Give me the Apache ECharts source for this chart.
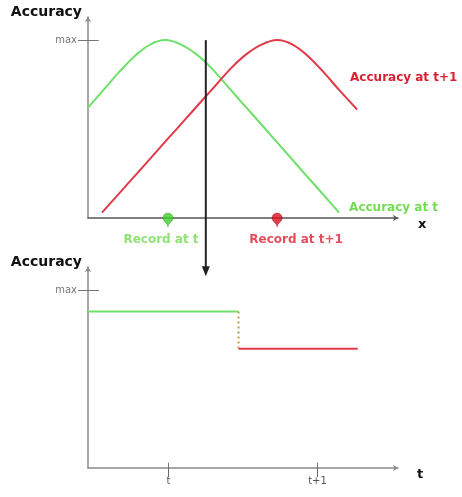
<!DOCTYPE html>
<html><head><meta charset="utf-8">
<script src="https://cdn.jsdelivr.net/npm/echarts@6/dist/echarts.min.js"></script>
<style>html,body{margin:0;padding:0;background:#fff}#c{width:462px;height:497px}</style>
</head><body><div id="c"></div>
<script>
// ---- data ----
const greenX = [0, 0.5, 1.0, 1.5, 2.0, 2.5, 3.0, 3.5, 4.0, 4.5, 5.0, 5.5, 6.0, 6.5, 7.0, 7.5, 8.1];
const greenY = [0.62, 0.72, 0.82, 0.91, 0.975, 1.0, 0.975, 0.92, 0.84, 0.741, 0.642, 0.544, 0.445, 0.346, 0.247, 0.149, 0.03];
const redX = [0.45, 1.1, 1.6, 2.1, 2.6, 3.1, 3.6, 4.1, 4.6, 5.1, 5.6, 6.1, 6.6, 7.1, 7.6, 8.1, 8.68];
const redY = [0.03, 0.157, 0.254, 0.352, 0.45, 0.547, 0.645, 0.742, 0.84, 0.92, 0.975, 1.0, 0.975, 0.91, 0.82, 0.72, 0.61];
const recordX = [2.58, 6.1];
const recordLabels = ['Record at t', 'Record at t+1'];
const arrowX = 3.8, arrowFrom = 1.0, arrowTo = -0.30;
const maxValue = 1;
const stepX = [0.46, 1.47, 2.27];
const greenLevel = 0.88, redLevel = 0.67;
const bottomTickValues = [1, 2];
const bottomTickLabels = ['t', 't+1'];

const GREEN = '#6fe06a', RED = '#e03a48', GREEN_TXT = '#72dc52', RED_TXT = '#dc2032';
const FONT = 'DejaVu Sans';
const zip = (xs, ys) => xs.map((x, i) => [x, ys[i]]);

const chart = echarts.init(document.getElementById('c'));
const yCommon = (gi) => ({
  type: 'value', gridIndex: gi, min: 0, max: 1.13,
  name: 'Accuracy', nameLocation: 'end', nameGap: 5,
  nameTextStyle: {align: 'right', verticalAlign: 'middle', padding: [0, 6, 0, 0], fontFamily: FONT, fontWeight: 'bold', fontSize: 14, color: '#111'},
  axisLine: {show: true, lineStyle: {color: '#8a8a8a', width: 1.5}, symbol: ['none', 'arrow'], symbolSize: [5, 5]},
  axisTick: {show: true, customValues: [maxValue], length: 10, lineStyle: {color: '#777'}},
  axisLabel: {show: true, customValues: [maxValue], formatter: () => 'max', margin: 11, fontFamily: FONT, fontSize: 10, color: '#777'},
  splitLine: {show: false}
});
const tickMark = (pts) => ({silent: true, symbol: 'none', label: {show: false}, lineStyle: {color: '#777', width: 1, type: 'solid'},
  emphasis: {disabled: true}, data: pts.map(p => [{coord: p[0]}, {coord: p[1]}])});

chart.setOption({
  animation: false,
  grid: [
    {left: 88, right: 64, top: 17, height: 201},
    {left: 88, right: 64, top: 267, height: 201}
  ],
  xAxis: [
    {type: 'value', gridIndex: 0, min: 0, max: 10, name: 'x', nameLocation: 'end', nameGap: 20,
     nameTextStyle: {fontFamily: FONT, fontWeight: 'bold', fontSize: 13, color: '#111', verticalAlign: 'top'},
     axisLine: {show: true, onZero: false, lineStyle: {color: '#555', width: 1.5}, symbol: ['none', 'arrow'], symbolSize: [5, 5]},
     axisTick: {show: false}, axisLabel: {show: false}, splitLine: {show: false}},
    {type: 'value', gridIndex: 1, min: 0.46, max: 2.54, name: 't', nameLocation: 'end', nameGap: 19,
     nameTextStyle: {fontFamily: FONT, fontWeight: 'bold', fontSize: 13, color: '#111', verticalAlign: 'top'},
     axisLine: {show: true, onZero: false, lineStyle: {color: '#8a8a8a', width: 1.5}, symbol: ['none', 'arrow'], symbolSize: [5, 5]},
     axisTick: {show: true, customValues: bottomTickValues, length: 9, lineStyle: {color: '#666'}},
     axisLabel: {show: true, customValues: bottomTickValues, formatter: v => bottomTickLabels[bottomTickValues.indexOf(v)],
       margin: 8, fontFamily: FONT, fontSize: 10, color: '#555'},
     splitLine: {show: false}}
  ],
  yAxis: [yCommon(0), yCommon(1)],
  series: [
    {type: 'line', xAxisIndex: 0, yAxisIndex: 0, data: zip(greenX, greenY), smooth: 0.3, showSymbol: false,
     lineStyle: {color: GREEN, width: 2}, itemStyle: {color: GREEN},
     endLabel: {show: true, formatter: 'Accuracy at t', color: GREEN_TXT, fontFamily: FONT, fontWeight: 'bold', fontSize: 12, distance: 10, offset: [0, -5]},
     markLine: tickMark([[[0, maxValue], [0.35, maxValue]]])},
    {type: 'line', xAxisIndex: 0, yAxisIndex: 0, data: zip(redX, redY), smooth: 0.3, showSymbol: false,
     lineStyle: {color: RED, width: 2}, itemStyle: {color: RED},
     endLabel: {show: true, formatter: 'Accuracy at t+1', color: RED_TXT, fontFamily: FONT, fontWeight: 'bold', fontSize: 12, distance: 0, offset: [-7, -32]}},
    {type: 'line', xAxisIndex: 0, yAxisIndex: 0, clip: false, showSymbol: true, silent: true,
     data: [{value: [arrowX, arrowFrom], symbol: 'none'},
            {value: [arrowX, arrowTo], symbol: 'triangle', symbolRotate: 180, symbolSize: [8, 10]}],
     lineStyle: {color: '#222', width: 2}, itemStyle: {color: '#222'}},
    {type: 'scatter', xAxisIndex: 0, yAxisIndex: 0, clip: false, symbol: 'pin', symbolSize: [17, 16], symbolOffset: [0, 9],
     data: recordX.map((x, i) => ({value: [x, 0], itemStyle: {color: i === 0 ? '#3fcf2a' : '#d81020', borderColor: i === 0 ? '#2a9a1a' : '#901010', borderWidth: 0.5},
       label: {show: true, position: 'inside', offset: [i === 0 ? -7 : 19, 21], formatter: recordLabels[i],
         color: i === 0 ? GREEN_TXT : RED_TXT, fontFamily: FONT, fontWeight: 'bold', fontSize: 12}}))},
    {type: 'line', xAxisIndex: 1, yAxisIndex: 1, data: [[stepX[0], greenLevel], [stepX[1], greenLevel]], showSymbol: false,
     lineStyle: {color: GREEN, width: 2},
     markLine: tickMark([[[stepX[0], maxValue], [stepX[0] + 0.074, maxValue]], [[1, 0], [1, 0.03]], [[2, 0], [2, 0.03]]])},
    {type: 'line', xAxisIndex: 1, yAxisIndex: 1, data: [[stepX[1], greenLevel], [stepX[1], redLevel]], showSymbol: false,
     lineStyle: {color: '#b9a044', width: 2, type: [2, 3]}},
    {type: 'line', xAxisIndex: 1, yAxisIndex: 1, data: [[stepX[1], redLevel], [stepX[2], redLevel]], showSymbol: false,
     lineStyle: {color: RED, width: 2}}
  ]
});
</script></body></html>
